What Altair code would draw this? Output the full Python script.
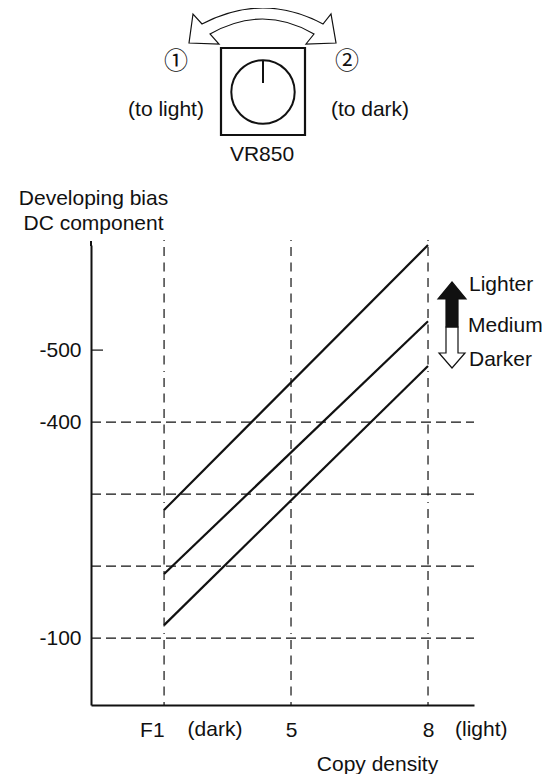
import altair as alt
import pandas as pd

FONT = "Liberation Sans"
INK = "#111111"
FS = 21

# chart data
F1_POS = 2.22
density_ticks = [F1_POS, 5, 8]
bias_labelled = [-100, -400, -500]
bias_dashed = [-100, -200, -300, -400]
line_names = ["Lighter", "Medium", "Darker"]
line_start = [-278, -189, -118]
line_end = [-646, -540, -478]

# annotation text
notes = ["①", "②", "(to light)", "(to dark)", "VR850", "Lighter", "Medium", "Darker", "(dark)", "(light)"]
note_x = [85, 256, 75, 279, 171, 378, 377, 378, 124, 364]
note_y = [-183, -183, -135, -135, -90, 40, 81, 115, 485, 485]
note_align = ["center", "center", "center", "center", "center", "left", "left", "left", "center", "left"]

W, H = 383, 460
x_scale = alt.Scale(domain=[0.62, 9.007], nice=False, zero=False)
y_scale = alt.Scale(domain=[-7, -646], nice=False, zero=False)

x_q = alt.X("d:Q", scale=x_scale, axis=alt.Axis(
    values=density_ticks, labelExpr="datum.value < 3 ? 'F1' : datum.label",
    labelAlign={"condition": {"test": "datum.value < 3", "value": "right"}, "value": "center"},
    tickSize=0, labelPadding=25, grid=False, domainWidth=2, domainColor=INK,
    labelFont=FONT, labelFontSize=FS, labelColor=INK, labelBaseline="middle",
    title="Copy density", titleFont=FONT, titleFontSize=FS, titleFontWeight="normal",
    titleColor=INK, titleX=286, titleY=48, titleAlign="center"))
y_q = alt.Y("b:Q", scale=y_scale, axis=alt.Axis(
    values=bias_labelled, labelExpr="'-' + abs(datum.value)", tickSize=0, labelPadding=10,
    grid=False, domainWidth=2, domainColor=INK, labelFont=FONT, labelFontSize=FS, labelColor=INK,
    title=["Developing bias", "DC component"], titleAngle=0, titleFont=FONT,
    titleFontSize=FS, titleFontWeight="normal", titleColor=INK, titleX=2, titleY=-47,
    titleAlign="center", titleBaseline="middle", titleLineHeight=25))

rows = []
for n, s, e in zip(line_names, line_start, line_end):
    rows += [{"name": n, "d": F1_POS, "b": s}, {"name": n, "d": 8, "b": e}]
lines = alt.Chart(pd.DataFrame(rows)).mark_line(color=INK, strokeWidth=2.2).encode(
    x=x_q, y=y_q, detail="name:N")

hdash = alt.Chart(pd.DataFrame({"b": bias_dashed})).mark_rule(
    color=INK, strokeWidth=1.2, strokeDash=[10, 5]).encode(
    y=alt.Y("b:Q", scale=y_scale), x=alt.value(0), x2=alt.value(W))
vdash = alt.Chart(pd.DataFrame({"d": density_ticks})).mark_rule(
    color=INK, strokeWidth=1.2, strokeDash=[1, 6, 9, 6.5, 9, 6.5, 9, 6.5, 9, 6.5, 9, 6.5, 9, 6.5, 9, 6.5, 9, 6.5]).encode(
    x=alt.X("d:Q", scale=x_scale), y=alt.value(-5), y2=alt.value(H))
tick500 = alt.Chart(pd.DataFrame({"b": [-500]})).mark_rule(
    color=INK, strokeWidth=1.2).encode(
    y=alt.Y("b:Q", scale=y_scale), x=alt.value(0), x2=alt.value(12))
axis_top = alt.Chart(pd.DataFrame({"k": [0]})).mark_rule(color=INK, strokeWidth=2).encode(
    x=alt.value(0), y=alt.value(-4), y2=alt.value(1))

texts = alt.layer(*[
    alt.Chart(pd.DataFrame({"t": [t]})).mark_text(
        font=FONT if t not in "①②" else "Noto Sans CJK JP", fontSize=FS if t not in "①②" else 24,
        color=INK, align=a, baseline="middle").encode(
        text="t:N", x=alt.value(x), y=alt.value(y))
    for t, x, y, a in zip(notes, note_x, note_y, note_align)
])

one = pd.DataFrame({"k": [0]})
def symbol(path, x, y, fill, stroke=INK, sw=1.2):
    return alt.Chart(one).mark_point(shape=path, size=4, filled=True, fill=fill,
                                     stroke=stroke, strokeWidth=sw, opacity=1).encode(
        x=alt.value(x), y=alt.value(y))

curved = ("M-74,18 L-70,-11 L-61,-1 Q0,-33 60,-1 L68,-11 L73,18 L43,19 L51,9 "
          "Q0,-21 -53,9 L-44,19 Z")
black_up = "M0,-22 L14,-5 L6,-5 L6,23 L-6,23 L-6,-5 L-14,-5 Z"
white_down = "M-6,-22 L6,-22 L6,4 L13,4 L0,19 L-13,4 L-6,4 Z"

arrow = symbol(curved, 172, -220, "white")
up = symbol(black_up, 361, 59, INK)
down = symbol(white_down, 361, 104, "white")

box = alt.Chart(one).mark_rect(fill="white", stroke=INK, strokeWidth=2.2).encode(
    x=alt.value(130), x2=alt.value(214), y=alt.value(-197), y2=alt.value(-110))
dial = alt.Chart(one).mark_point(shape="circle", size=4020, stroke=INK, strokeWidth=2,
                                 opacity=1).encode(x=alt.value(172), y=alt.value(-153))
needle = alt.Chart(one).mark_rule(color=INK, strokeWidth=2).encode(
    x=alt.value(172), y=alt.value(-184), y2=alt.value(-162))

chart = alt.layer(lines, hdash, vdash, tick500, axis_top, arrow, box, dial, needle, down, up, texts).properties(
    width=W, height=H,
    autosize=alt.AutoSizeParams(type="none"),
    padding={"left": 83, "top": 237, "right": 76, "bottom": 70},
).configure_view(stroke=None)

chart.save("out.html", embed_options={"renderer": "svg", "actions": False})
